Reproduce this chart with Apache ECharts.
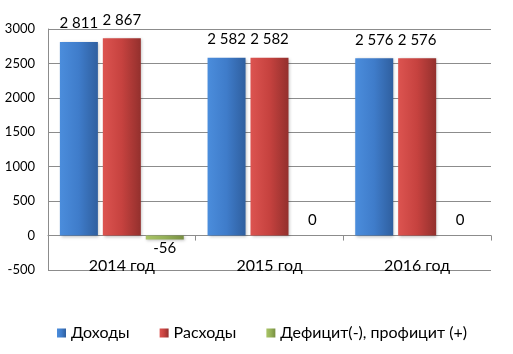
<!DOCTYPE html>
<html><head><meta charset="utf-8">
<script src="https://cdn.jsdelivr.net/npm/echarts@6/dist/echarts.min.js"></script>
<style>html,body{margin:0;padding:0;background:#fff}#c{width:513px;height:354px}</style>
</head><body><div id="c"></div>
<script>
var categories = ['2014 год', '2015 год', '2016 год'];
var seriesNames = ['Доходы', 'Расходы', 'Дефицит(-), профицит (+)'];
var incomes = [2811, 2582, 2576];
var expenses = [2867, 2582, 2576];
var balance = [-56, 0, 0];
var yTicks = [-500, 0, 500, 1000, 1500, 2000, 2500, 3000];

var FONT = 'Lato, "Noto Sans", sans-serif';
function fmt(v){ var s = String(Math.abs(v)); s = s.replace(/\B(?=(\d{3})+(?!\d))/g, ' '); return (v<0?'-':'') + s; }
function grad(a,b,c){ return {type:'linear',x:0,y:0,x2:1,y2:0,colorStops:[{offset:0,color:a},{offset:0.5,color:b},{offset:1,color:c}]}; }
var colors = [grad('#4b8ddc','#3f7cca','#2f5f9f'), grad('#dc5450','#c6423f','#93302d'), grad('#a9c466','#94b057','#788f42')];
var solid = ['#3f7cca','#c6423f','#94b057'];

function mk(i, arr){
  return {
    name: seriesNames[i], type:'bar', barWidth:38, barGap:'13%',
    itemStyle:{color:colors[i], shadowColor:'rgba(0,0,0,0.25)', shadowBlur:3, shadowOffsetX:1, shadowOffsetY:1},
    label:{show:true, position:'top', distance:11, color:'#000', fontFamily:FONT, fontSize:15, formatter:function(p){return fmt(p.value);}},
    data: arr.map(function(v){
      if (v < 0) return {value:v, label:{position:'bottom', distance:1}};
      if (v === 0) return {value:v, label:{distance:8}};
      return v;
    })
  };
}

var chart = echarts.init(document.getElementById('c'));
chart.setOption({
  animation:false,
  textStyle:{fontFamily:FONT},
  color: solid,
  grid:{left:48, right:22, top:29, bottom:84, containLabel:false},
  legend:{
    bottom:8, left:52, itemWidth:9, itemHeight:9, itemGap:30, icon:'rect',
    textStyle:{fontFamily:FONT, fontSize:16, color:'#000'},
    data: seriesNames.map(function(n,i){return {name:n, itemStyle:{color:colors[i]}};})
  },
  xAxis:{
    type:'category', data:categories,
    axisLine:{onZero:true, lineStyle:{color:'#8c8c8c', width:1}},
    axisTick:{show:true, length:5, lineStyle:{color:'#8c8c8c'}},
    axisLabel:{margin:-12, color:'#000', fontFamily:FONT, fontSize:16}
  },
  yAxis:{
    type:'value', min:yTicks[0], max:yTicks[yTicks.length-1], interval:500,
    axisLine:{show:true, lineStyle:{color:'#8c8c8c'}},
    axisTick:{show:false},
    splitLine:{lineStyle:{color:'#8c8c8c'}},
    axisLabel:{margin:13, color:'#000', fontFamily:FONT, fontSize:13, formatter:function(v){return String(v);}}
  },
  series:[mk(0,incomes), mk(1,expenses), mk(2,balance)]
});
</script></body></html>
